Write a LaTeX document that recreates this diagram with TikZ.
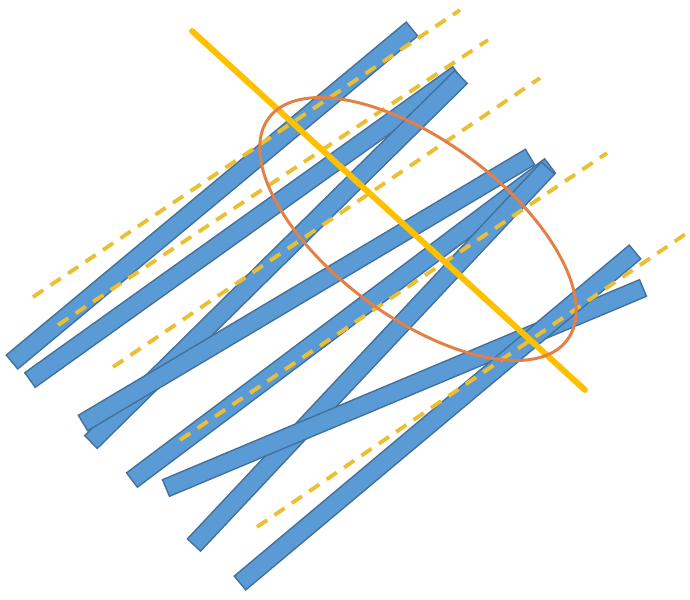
\documentclass[tikz,border=0pt]{standalone}
\usepackage{xcolor}
\usetikzlibrary{calc}
\definecolor{barfill}{RGB}{91,155,213}
\definecolor{baredge}{RGB}{65,113,156}
\definecolor{dashyellow}{RGB}{236,190,50}
\definecolor{axisyellow}{RGB}{255,192,0}
\definecolor{ringorange}{RGB}{226,128,72}
\newcommand\stick[2]{\filldraw[stick] ($(#1)!0.18cm!90:(#2)$) -- ($(#1)!0.18cm!-90:(#2)$)
  -- ($(#2)!0.18cm!90:(#1)$) -- ($(#2)!0.18cm!-90:(#1)$) -- cycle;}

\begin{document}
\begin{tikzpicture}[x=0.02cm,y=-0.02cm,
  stick/.style={fill=barfill,draw=baredge,line width=0.8pt},
  guide/.style={dashyellow,line width=2.2pt,dash pattern=on 7pt off 5pt},
  axis/.style={axisyellow,line width=3.4pt,line cap=round},
  ring/.style={ringorange,line width=1.7pt}]
\useasboundingbox (0,0) rectangle (690,599);
\stick{12,362}{412,29} \stick{30,380}{458,74}
\stick{91,442}{461,77} \stick{83,423}{530,157}
\stick{132,480}{550,166} \stick{194,545}{548,168}
\stick{166,488}{643,288} \stick{240,583}{635,252}
\draw[guide] (33,297) -- (460,10); \draw[guide] (58,325) -- (488,40);
\draw[guide] (113,367) -- (540,78); \draw[guide] (180,440) -- (607,153);
\draw[guide] (257,527) -- (687,233);
\draw[axis] (192,31) -- (585,390);
\draw[ring] (418,229) ellipse [x radius=3.72cm, y radius=1.76cm, rotate=-36.6];
\end{tikzpicture}
\end{document}
